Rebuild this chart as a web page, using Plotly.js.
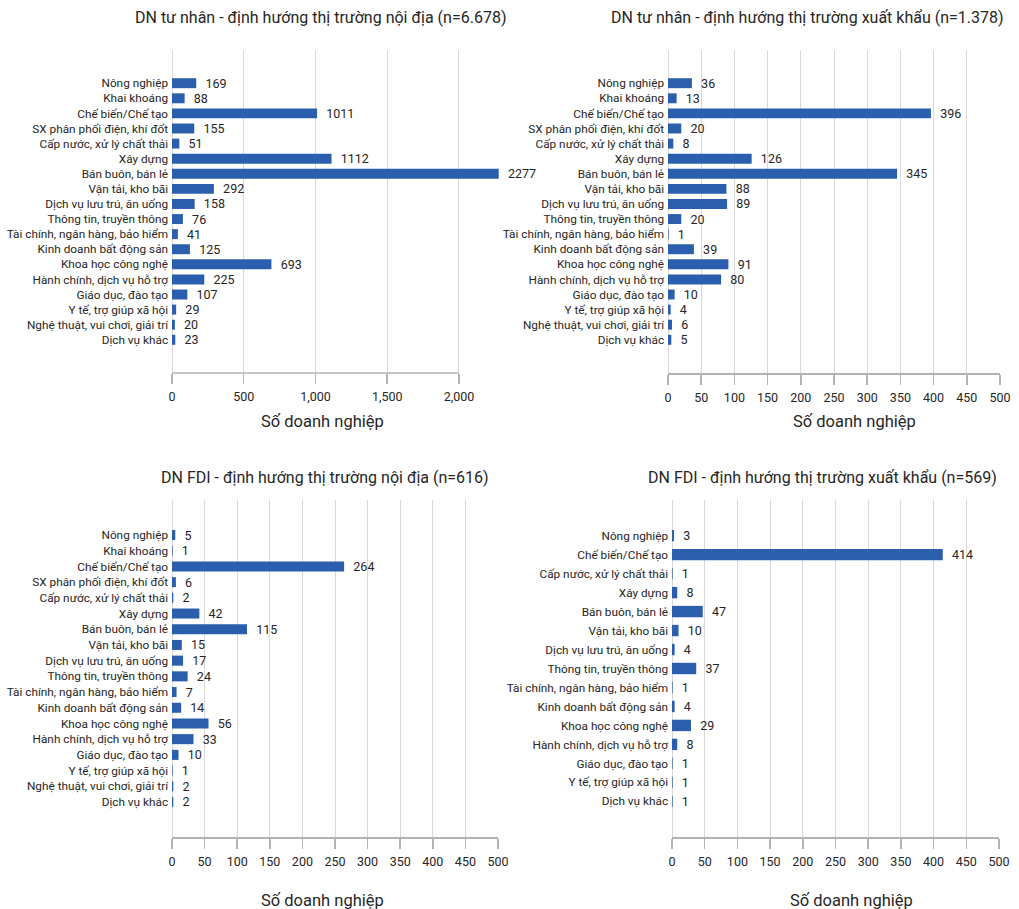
<!DOCTYPE html>
<html>
<head>
<meta charset="utf-8">
<script src="https://cdn.plot.ly/plotly-3.0.1.min.js"></script>
<style>html,body{margin:0;padding:0;background:#fff}#chart{width:1019px;height:909px}</style>
</head>
<body>
<div id="chart"></div>
<script>
// ---- DATA ----
const sectors18 = [
  "Nông nghiệp", "Khai khoáng", "Chế biến/Chế tạo", "SX phân phối điện, khí đốt",
  "Cấp nước, xử lý chất thải", "Xây dựng", "Bán buôn, bán lẻ", "Vận tải, kho bãi",
  "Dịch vụ lưu trú, ăn uống", "Thông tin, truyền thông", "Tài chính, ngân hàng, bảo hiểm",
  "Kinh doanh bất động sản", "Khoa học công nghệ", "Hành chính, dịch vụ hỗ trợ",
  "Giáo dục, đào tạo", "Y tế, trợ giúp xã hội", "Nghệ thuật, vui chơi, giải trí", "Dịch vụ khác"
];
const sectorsFdiExport = [
  "Nông nghiệp", "Chế biến/Chế tạo", "Cấp nước, xử lý chất thải", "Xây dựng",
  "Bán buôn, bán lẻ", "Vận tải, kho bãi", "Dịch vụ lưu trú, ăn uống", "Thông tin, truyền thông",
  "Tài chính, ngân hàng, bảo hiểm", "Kinh doanh bất động sản", "Khoa học công nghệ",
  "Hành chính, dịch vụ hỗ trợ", "Giáo dục, đào tạo", "Y tế, trợ giúp xã hội", "Dịch vụ khác"
];
const privateDomestic = [169, 88, 1011, 155, 51, 1112, 2277, 292, 158, 76, 41, 125, 693, 225, 107, 29, 20, 23];
const privateExport   = [36, 13, 396, 20, 8, 126, 345, 88, 89, 20, 1, 39, 91, 80, 10, 4, 6, 5];
const fdiDomestic     = [5, 1, 264, 6, 2, 42, 115, 15, 17, 24, 7, 14, 56, 33, 10, 1, 2, 2];
const fdiExport       = [3, 414, 1, 8, 47, 10, 4, 37, 1, 4, 29, 8, 1, 1, 1];

const titles = [
  "DN tư nhân - định hướng thị trường nội địa (n=6.678)",
  "DN tư nhân - định hướng thị trường xuất khẩu (n=1.378)",
  "DN FDI - định hướng thị trường nội địa (n=616)",
  "DN FDI - định hướng thị trường xuất khẩu (n=569)"
];
const axisTitle = "Số doanh nghiệp";
const ticksA = [0, 500, 1000, 1500, 2000];
const ticksB = [0, 50, 100, 150, 200, 250, 300, 350, 400, 450, 500];

// ---- STYLE ----
const FONT = "Roboto, 'Liberation Sans', sans-serif";
const BAR = "#2b5fad";
const TXT = "#262626";
const GRID = "#d9d9d9";
const LINE = "#b3b3b3";
const W = 1019, H = 909;
const px = v => v / W;
const py = v => 1 - v / H;

function barTrace(cats, vals, xa, ya, width) {
  return {
    type: "bar", orientation: "h",
    y: cats, x: vals,
    xaxis: xa, yaxis: ya,
    marker: {color: BAR},
    width: width,
    text: vals.map(v => "\u00a0\u00a0" + v),
    textposition: "outside",
    constraintext: "none",
    textfont: {family: FONT, size: 12.5, color: TXT},
    cliponaxis: false,
    hoverinfo: "x+y"
  };
}

const data = [
  barTrace(sectors18, privateDomestic, "x", "y", 0.66),
  barTrace(sectors18, privateExport, "x2", "y2", 0.66),
  barTrace(sectors18, fdiDomestic, "x3", "y3", 0.64),
  barTrace(sectorsFdiExport, fdiExport, "x4", "y4", 0.6)
];

function xAxis(domain, range, ticks, anchor, showline) {
  return {
    domain: domain, range: range, anchor: anchor,
    tickmode: "array", tickvals: ticks, tickformat: ",d",
    showgrid: true, gridcolor: GRID, gridwidth: 1,
    zeroline: true, zerolinecolor: GRID, zerolinewidth: 1,
    showline: showline, linecolor: LINE, linewidth: 1.5,
    ticks: "outside", ticklen: 10, tickcolor: LINE, tickwidth: 1.5,
    ticklabelstandoff: 2,
    tickfont: {family: FONT, size: 12.5, color: TXT},
    fixedrange: true
  };
}
function yAxis(domain, range, anchor) {
  return {
    domain: domain, range: range, anchor: anchor, type: "category",
    tickmode: "linear", tick0: 0, dtick: 1,
    showgrid: false, zeroline: false, showline: false, ticks: "",
    ticksuffix: " ",
    tickfont: {family: FONT, size: 11.8, color: TXT},
    fixedrange: true
  };
}

const topDom = [py(373), py(50)];
const botDom = [py(837), py(500)];

const layout = {
  width: W, height: H,
  margin: {l: 0, r: 0, t: 0, b: 0},
  paper_bgcolor: "#ffffff", plot_bgcolor: "rgba(0,0,0,0)",
  showlegend: false,
  font: {family: FONT, color: TXT},
  xaxis:  xAxis([px(172), px(502)], [0, 2300], ticksA, "y", false),
  yaxis:  yAxis(topDom, [17 + 2.2, -2.2], "x"),
  xaxis2: xAxis([px(668), px(1000)], [0, 500], ticksB, "y2", true),
  yaxis2: yAxis(topDom, [17 + 2.2, -2.2], "x2"),
  xaxis3: xAxis([px(172), px(498)], [0, 500], ticksB, "y3", true),
  yaxis3: yAxis(botDom, [17 + 2.23, -2.23], "x3"),
  xaxis4: xAxis([px(672), px(999)], [0, 500], ticksB, "y4", true),
  yaxis4: yAxis(botDom, [14 + 1.88, -1.88], "x4"),
  shapes: [{
    type: "line", xref: "x", yref: "y domain",
    x0: 0, x1: ticksA[ticksA.length - 1], y0: 0, y1: 0,
    line: {color: LINE, width: 1.5}
  }],
  annotations: [
    {text: titles[0], x: px(320), y: py(17)},
    {text: titles[1], x: px(807), y: py(17)},
    {text: titles[2], x: px(325), y: py(477)},
    {text: titles[3], x: px(822), y: py(477)}
  ].map(a => Object.assign(a, {
    xref: "paper", yref: "paper", xanchor: "center", yanchor: "middle",
    showarrow: false, font: {family: FONT, size: 16, color: TXT}
  })).concat([
    {x: px(322), y: py(421)},
    {x: px(854), y: py(421)},
    {x: px(322), y: py(900)},
    {x: px(851), y: py(900)}
  ].map(a => Object.assign(a, {
    text: axisTitle,
    xref: "paper", yref: "paper", xanchor: "center", yanchor: "middle",
    showarrow: false, font: {family: FONT, size: 16.5, color: TXT}
  })))
};

Plotly.newPlot("chart", data, layout, {displayModeBar: false, staticPlot: true});
</script>
</body>
</html>
